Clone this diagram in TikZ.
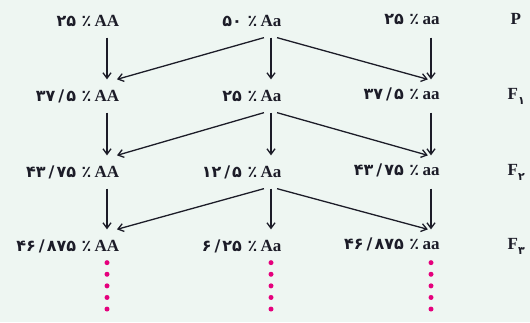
\documentclass[tikz,border=0pt]{standalone}
\usepackage{fontspec}
\setmainfont{Liberation Serif}
\newfontfamily\fadigits{DejaVu Sans}
\TeXXeTstate=1
\usetikzlibrary{arrows.meta, positioning}
\definecolor{paper}{RGB}{238,246,242}
\definecolor{ink}{RGB}{28,28,40}
\definecolor{carrydots}{RGB}{229,0,125}
\tikzset{->, >={Straight Barb[length=5.5pt,width=8pt]}}
\tikzset{
  geno/.style={font=\fontsize{17}{17}\selectfont\bfseries, text=ink,
    inner sep=0pt, minimum height=32pt},
  share/.style={font=\fontsize{16}{16}\fadigits\bfseries, text=ink,
    inner sep=0pt, anchor=base east, xshift=-2pt},
  gen/.style={font=\fontsize{17}{17}\selectfont\bfseries, text=ink,
    inner sep=0pt, anchor=base west},
  carry/.style={-, draw=carrydots, line width=5pt, line cap=round,
    dash pattern=on 0pt off 11.6pt}
}
% percent share, written right to left
\newcommand{\pct}[1]{\beginR ٪ \beginL#1\endL\endR}
\newcommand{\dsep}{\kern3pt/\kern2pt}
\newcommand{\sub}[1]{\raisebox{-5pt}{\fontsize{11}{11}\fadigits\bfseries #1}}

\begin{document}
\begin{tikzpicture}[x=1pt, y=-1pt, on grid, line width=1.3pt, draw=ink]
  \useasboundingbox[fill=paper] (0,0) rectangle (530,322);

  % genotypes, one row per generation
  \node[geno] (AA0) at (107,21) {AA};
  \node[geno, right=164pt of AA0] (Aa0) {Aa};
  \node[geno, right=160pt of Aa0] (aa0) {aa};

  \node[geno, below=75pt of AA0] (AA1) {AA};
  \node[geno, below=75pt of Aa0] (Aa1) {Aa};
  \node[geno, below=75pt of aa0] (aa1) {aa};

  \node[geno, below=76pt of AA1] (AA2) {AA};
  \node[geno, below=76pt of Aa1] (Aa2) {Aa};
  \node[geno, below=76pt of aa1] (aa2) {aa};

  \node[geno, below=74pt of AA2] (AA3) {AA};
  \node[geno, below=74pt of Aa2] (Aa3) {Aa};
  \node[geno, below=74pt of aa2] (aa3) {aa};

  % shares in front of them
  \node[share] (pAA0) at (AA0.base west) {\pct{۲۵}};
  \node[share] (pAa0) at (Aa0.base west) {\pct{۵۰}};
  \node[share] (paa0) at (aa0.base west) {\pct{۲۵}};

  \node[share] (pAA1) at (AA1.base west) {\pct{۳۷\dsep۵}};
  \node[share] (pAa1) at (Aa1.base west) {\pct{۲۵}};
  \node[share] (paa1) at (aa1.base west) {\pct{۳۷\dsep۵}};

  \node[share] (pAA2) at (AA2.base west) {\pct{۴۳\dsep۷۵}};
  \node[share] (pAa2) at (Aa2.base west) {\pct{۱۲\dsep۵}};
  \node[share] (paa2) at (aa2.base west) {\pct{۴۳\dsep۷۵}};

  \node[share] (pAA3) at (AA3.base west) {\pct{۴۶\dsep۸۷۵}};
  \node[share] (pAa3) at (Aa3.base west) {\pct{۶\dsep۲۵}};
  \node[share] (paa3) at (aa3.base west) {\pct{۴۶\dsep۸۷۵}};

  % generation names
  \node[gen] (gen0) at (510,0 |- aa0.base) {P};
  \node[gen] (gen1) at (507,0 |- aa1.base) {F\sub{۱}};
  \node[gen] (gen2) at (507,0 |- aa2.base) {F\sub{۲}};
  \node[gen] (gen3) at (507,0 |- aa3.base) {F\sub{۳}};

  % P -> F1
  \draw (AA0) -- (AA1);
  \draw (Aa0) -- (Aa1);
  \draw (aa0) -- (aa1);
  \draw ([xshift=4pt]Aa0.south west) -- ([xshift=-3pt]AA1.north east);
  \draw ([xshift=-5pt]Aa0.south east) -- ([xshift=6pt]aa1.north west);

  % F1 -> F2
  \draw (AA1) -- (AA2);
  \draw (Aa1) -- (Aa2);
  \draw (aa1) -- (aa2);
  \draw ([xshift=4pt]Aa1.south west) -- ([xshift=-3pt]AA2.north east);
  \draw ([xshift=-5pt]Aa1.south east) -- ([xshift=6pt]aa2.north west);

  % F2 -> F3
  \draw (AA2) -- (AA3);
  \draw (Aa2) -- (Aa3);
  \draw (aa2) -- (aa3);
  \draw ([xshift=4pt]Aa2.south west) -- ([xshift=-3pt]AA3.north east);
  \draw ([xshift=-5pt]Aa2.south east) -- ([xshift=6pt]aa3.north west);

  % and so on
  \coordinate[below=70pt of AA3] (AA4);
  \coordinate[below=70pt of Aa3] (Aa4);
  \coordinate[below=70pt of aa3] (aa4);
  \draw[carry] (AA3.south) -- (AA4);
  \draw[carry] (Aa3.south) -- (Aa4);
  \draw[carry] (aa3.south) -- (aa4);
\end{tikzpicture}
\end{document}
